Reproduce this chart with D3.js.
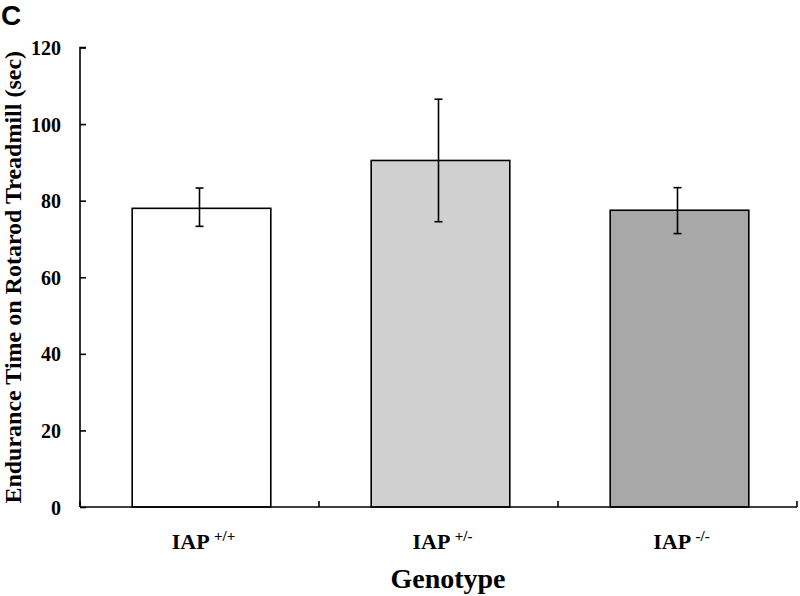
<!DOCTYPE html>
<html><head><meta charset="utf-8">
<script src="https://cdn.jsdelivr.net/npm/d3@7"></script>
<style>body{margin:0;background:#fff}svg{display:block}</style>
</head><body>
<script>
const categories = ["+/+", "+/-", "-/-"];
const means = [78, 90.5, 77.5];
const errHigh = [83.3, 106.5, 83.4];
const errLow = [73.3, 74.5, 71.4];
const fills = ["#ffffff", "#d0d0d0", "#a8a8a8"];
const yTicks = [0, 20, 40, 60, 80, 100, 120];

const W = 800, H = 596;
const m = {left: 80, right: 3, top: 47.5, bottom: 89};
const svg = d3.select("body").append("svg").attr("width", W).attr("height", H);
const serif = "'Liberation Serif','Times New Roman',serif";

const x = d3.scaleBand().domain(categories).range([m.left, W - m.right]).paddingInner(0.42).paddingOuter(0.21);
const y = d3.scaleLinear().domain([0, 120]).range([H - m.bottom, m.top]);

// bars
svg.selectAll("rect.bar").data(categories).join("rect")
  .attr("x", d => x(d) + 2).attr("y", (d,i) => y(means[i]))
  .attr("width", x.bandwidth()).attr("height", (d,i) => y(0) - y(means[i]))
  .attr("fill", (d,i) => fills[i]).attr("stroke", "#000").attr("stroke-width", 1.6);

// error bars
const cx = d => x(d) + x.bandwidth()/2;
const eb = svg.append("g").attr("stroke", "#000").attr("stroke-width", 1.6);
categories.forEach((d,i) => {
  eb.append("line").attr("x1", cx(d)).attr("x2", cx(d)).attr("y1", y(errHigh[i])).attr("y2", y(errLow[i]));
  [errHigh[i], errLow[i]].forEach(v => eb.append("line").attr("x1", cx(d)-4).attr("x2", cx(d)+4).attr("y1", y(v)).attr("y2", y(v)));
});

// y axis
const ya = svg.append("g").attr("transform", `translate(${m.left},0)`)
  .call(d3.axisRight(y).tickValues(yTicks).tickSize(6).tickFormat(d3.format("d")));
ya.select(".domain").attr("stroke-width", 1.6).attr("d", `M6,${y(120)}H0V${y(0)}`);
ya.selectAll(".tick line").attr("stroke-width", 1.6);
ya.selectAll(".tick text").attr("x", -19).attr("text-anchor", "end").attr("dy", "0.35em")
  .attr("font-family", serif).attr("font-weight", "bold").attr("font-size", 20).attr("fill", "#000");

// x axis with boundary ticks
const xa = svg.append("g").attr("transform", `translate(0,${y(0)})`);
xa.append("line").attr("x1", m.left).attr("x2", W - m.right).attr("stroke", "#000").attr("stroke-width", 1.6);
const bounds = [x.range()[0], ...categories.slice(1).map(d => x(d) - x.step()*x.paddingInner()/2), x.range()[1]];
xa.selectAll("line.b").data(bounds).join("line").attr("class", "b")
  .attr("x1", d => d).attr("x2", d => d).attr("y1", 0).attr("y2", -6).attr("stroke", "#000").attr("stroke-width", 1.6);

// category labels
const lab = svg.append("g").attr("font-family", serif).attr("font-weight", "bold").attr("fill", "#000");
categories.forEach(d => {
  const t = lab.append("text").attr("x", cx(d) + 4).attr("y", 549).attr("text-anchor", "middle").attr("font-size", 22);
  t.append("tspan").text("IAP ");
  t.append("tspan").attr("font-size", 15).attr("dy", -8).text(d);
});

svg.append("text").attr("x", 448).attr("y", 588).attr("text-anchor", "middle")
  .attr("font-family", serif).attr("font-weight", "bold").attr("font-size", 28).text("Genotype");

svg.append("text").attr("transform", `translate(21,${(y(0)+y(120))/2}) rotate(-90)`)
  .attr("text-anchor", "middle").attr("font-family", serif).attr("font-weight", "bold").attr("font-size", 24)
  .text("Endurance Time on Rotarod Treadmill (sec)");

svg.append("text").attr("x", 1).attr("y", 25).attr("font-family", "'Liberation Sans',Arial,sans-serif")
  .attr("font-weight", "bold").attr("font-size", 28).text("C");
</script>
</body></html>
